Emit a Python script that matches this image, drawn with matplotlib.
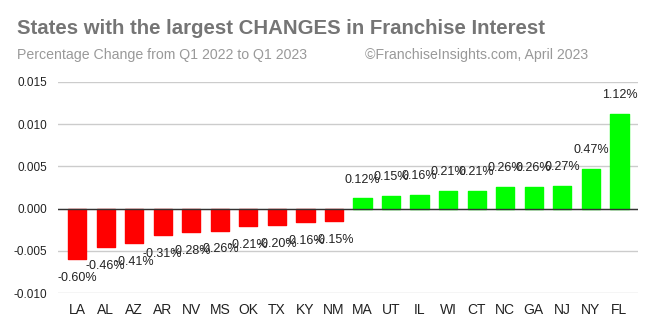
import numpy as np
import matplotlib.pyplot as plt

# data (fraction change, Q1 2022 -> Q1 2023)
states = ['LA', 'AL', 'AZ', 'AR', 'NV', 'MS', 'OK', 'TX', 'KY', 'NM',
          'MA', 'UT', 'IL', 'WI', 'CT', 'NC', 'GA', 'NJ', 'NY', 'FL']
changes = [-0.0060, -0.0046, -0.0041, -0.0031, -0.0028, -0.0026, -0.0021, -0.0020, -0.0016, -0.0015,
           0.0012, 0.0015, 0.0016, 0.0021, 0.0021, 0.0026, 0.0026, 0.0027, 0.0047, 0.0112]
yticks = [-0.010, -0.005, 0.000, 0.005, 0.010, 0.015]

plt.rcParams['font.family'] = ['Liberation Sans', 'DejaVu Sans']

fig = plt.figure(figsize=(6.55, 3.33), dpi=100)
ax = fig.add_axes([0.0885, 0.120, 0.8855, 0.634])

x = np.arange(len(states))
colors = ['#ff0000' if v < 0 else '#00ff00' for v in changes]
ax.bar(x, changes, width=0.64, color=colors, edgecolor=colors,
       linewidth=1, joinstyle='round', zorder=3)

# value labels above / below each bar
for xi, v in zip(x, changes):
    off = 13.5 if v >= 0 else -13.5
    ax.annotate('%.2f%%' % (v * 100), (xi, v), xytext=(0, off),
                textcoords='offset points', ha='center', va='center',
                fontsize=9, color='#222222', zorder=4)

ax.set_xlim(-0.67, len(states) - 0.35)
ax.set_ylim(-0.010, 0.015)
ax.set_yticks(yticks)
ax.set_yticklabels(['%.3f' % t for t in yticks])
ax.set_xticks(x)
ax.set_xticklabels(states)
ax.tick_params(axis='both', length=0, colors='#222222')
ax.tick_params(axis='y', labelsize=8.5, pad=8)
ax.tick_params(axis='x', labelsize=10, pad=7)

ax.grid(axis='y', color='#cccccc', linewidth=1, zorder=0)
ax.axhline(0, color='#333333', linewidth=1, zorder=3.5)
for s in ax.spines.values():
    s.set_visible(False)

fig.text(0.026, 0.915, 'States with the largest CHANGES in Franchise Interest',
         fontsize=14.7, fontweight='bold', color='#757575', va='center')
fig.text(0.026, 0.835, 'Percentage Change from Q1 2022 to Q1 2023',
         fontsize=10.2, color='#999999', va='center')
fig.text(0.557, 0.835, '\u00a9FranchiseInsights.com, April 2023',
         fontsize=10.2, color='#999999', va='center')

fig.savefig('out.png', dpi=100)
